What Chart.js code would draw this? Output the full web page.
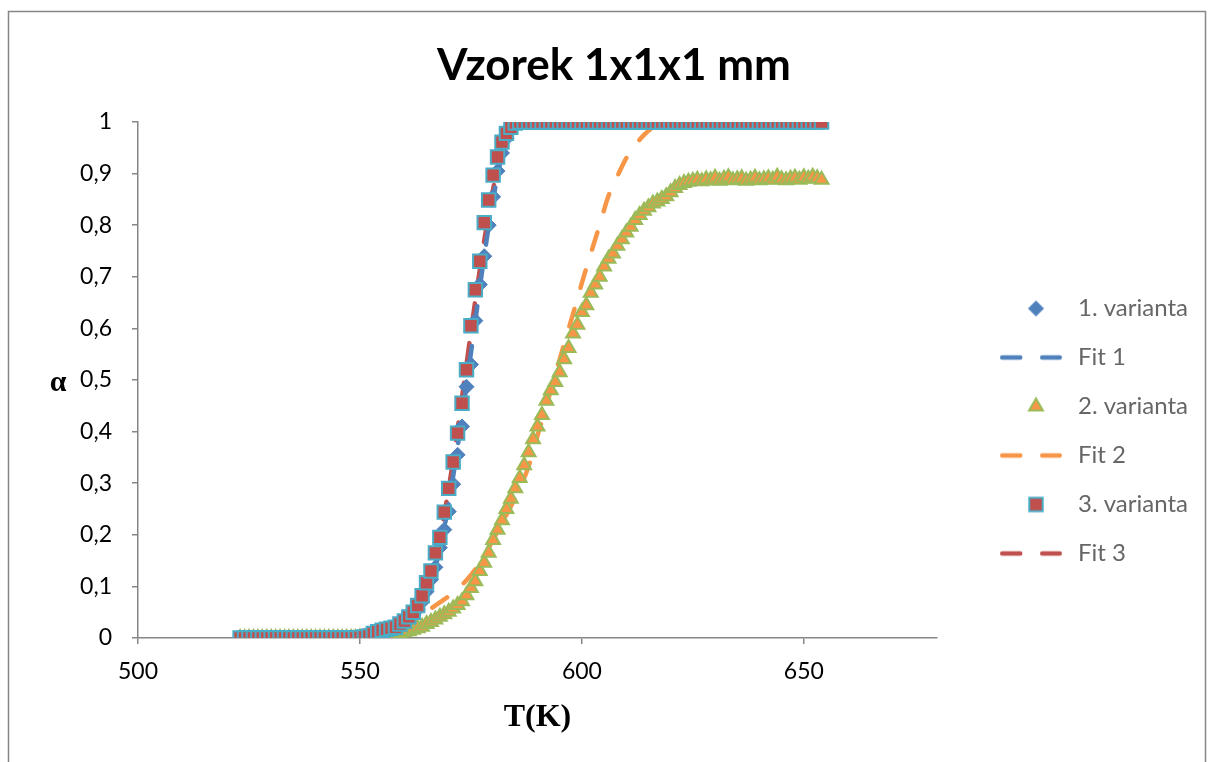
<!DOCTYPE html>
<html>
<head>
<meta charset="utf-8">
<script src="https://cdn.jsdelivr.net/npm/chart.js@4.4.1/dist/chart.umd.min.js"></script>
<style>
  html, body { margin: 0; padding: 0; background: #fff; }
</style>
</head>
<body>
<canvas id="chartCanvas" width="1208" height="762"></canvas>
<script>
// measured temperatures (K)
const temps = [
  523, 524, 525, 526, 527, 528, 529, 530, 531, 532,
  533, 534, 535, 536, 537, 538, 539, 540, 541, 542,
  543, 544, 545, 546, 547, 548, 549, 550, 551, 552,
  553, 554, 555, 556, 557, 558, 559, 560, 561, 562,
  563, 564, 565, 566, 567, 568, 569, 570, 571, 572,
  573, 574, 575, 576, 577, 578, 579, 580, 581, 582,
  583, 584, 585, 586, 587, 588, 589, 590, 591, 592,
  593, 594, 595, 596, 597, 598, 599, 600, 601, 602,
  603, 604, 605, 606, 607, 608, 609, 610, 611, 612,
  613, 614, 615, 616, 617, 618, 619, 620, 621, 622,
  623, 624, 625, 626, 627, 628, 629, 630, 631, 632,
  633, 634, 635, 636, 637, 638, 639, 640, 641, 642,
  643, 644, 645, 646, 647, 648, 649, 650, 651, 652,
  653, 654
];

// alpha, 1. varianta
const variant1 = [
  0, 0, 0, 0, 0, 0, 0, 0, 0, 0,
  0, 0, 0, 0, 0, 0, 0, 0, 0, 0,
  0, 0, 0, 0, 0, 0, 0, 0.001, 0.002, 0.003,
  0.006, 0.009, 0.012, 0.014, 0.016, 0.019, 0.023, 0.028, 0.035, 0.044,
  0.055, 0.07, 0.09, 0.113, 0.137, 0.175, 0.21, 0.245, 0.298, 0.355,
  0.41, 0.487, 0.53, 0.615, 0.685, 0.74, 0.8, 0.855, 0.905, 0.94,
  0.968, 0.985, 0.995, 0.999, 1, 1, 1, 1, 1, 1,
  1, 1, 1, 1, 1, 1, 1, 1, 1, 1,
  1, 1, 1, 1, 1, 1, 1, 1, 1, 1,
  1, 1, 1, 1, 1, 1, 1, 1, 1, 1,
  1, 1, 1, 1, 1, 1, 1, 1, 1, 1,
  1, 1, 1, 1, 1, 1, 1, 1, 1, 1,
  1, 1, 1, 1, 1, 1, 1, 1, 1, 1,
  1, 1
];

// alpha, 2. varianta
const variant2 = [
  0, 0, 0, 0, 0, 0, 0, 0, 0, 0,
  0, 0, 0, 0, 0, 0, 0, 0, 0, 0,
  0, 0, 0, 0, 0, 0, 0, 0.001, 0.001, 0.002,
  0.002, 0.003, 0.004, 0.005, 0.006, 0.007, 0.009, 0.011, 0.013, 0.016,
  0.019, 0.022, 0.027, 0.031, 0.036, 0.041, 0.046, 0.051, 0.057, 0.064,
  0.071, 0.083, 0.097, 0.11, 0.13, 0.146, 0.165, 0.19, 0.21, 0.228,
  0.25, 0.27, 0.29, 0.31, 0.335, 0.36, 0.385, 0.41, 0.432, 0.46,
  0.48, 0.496, 0.515, 0.54, 0.562, 0.59, 0.607, 0.632, 0.645, 0.669,
  0.685, 0.7, 0.72, 0.735, 0.745, 0.76, 0.773, 0.786, 0.797, 0.81,
  0.82, 0.828, 0.835, 0.842, 0.846, 0.851, 0.856, 0.864, 0.872, 0.878,
  0.882, 0.884, 0.886, 0.888, 0.885, 0.889, 0.887, 0.892, 0.886, 0.89,
  0.893, 0.887, 0.889, 0.891, 0.886, 0.888, 0.892, 0.887, 0.889, 0.891,
  0.888, 0.894, 0.889, 0.887, 0.89, 0.892, 0.888, 0.893, 0.89, 0.894,
  0.891, 0.888
];

// alpha, 3. varianta
const variant3 = [
  0, 0, 0, 0, 0, 0, 0, 0, 0, 0,
  0, 0, 0, 0, 0, 0, 0, 0, 0, 0,
  0, 0, 0, 0, 0, 0, 0, 0.001, 0.002, 0.004,
  0.009, 0.012, 0.015, 0.017, 0.019, 0.021, 0.027, 0.033, 0.041, 0.05,
  0.063, 0.082, 0.107, 0.13, 0.165, 0.195, 0.244, 0.29, 0.341, 0.397,
  0.455, 0.52, 0.605, 0.675, 0.73, 0.805, 0.849, 0.897, 0.932, 0.961,
  0.978, 0.99, 0.998, 1, 1, 1, 1, 1, 1, 1,
  1, 1, 1, 1, 1, 1, 1, 1, 1, 1,
  1, 1, 1, 1, 1, 1, 1, 1, 1, 1,
  1, 1, 1, 1, 1, 1, 1, 1, 1, 1,
  1, 1, 1, 1, 1, 1, 1, 1, 1, 1,
  1, 1, 1, 1, 1, 1, 1, 1, 1, 1,
  1, 1, 1, 1, 1, 1, 1, 1, 1, 1,
  1, 1
];

// fitted curves
const fitTemps = [
  523, 535, 545, 550, 553, 556, 558, 560, 562, 564,
  566, 568, 570, 572, 574, 576, 578, 580, 582, 584,
  586, 588, 590, 592, 594, 596, 598, 600, 602, 604,
  606, 608, 610, 612, 614, 616, 618, 620, 630, 640,
  654
];
const fit1 = [
  0, 0, 0, 0.002, 0.005, 0.01, 0.015, 0.024, 0.04, 0.066,
  0.108, 0.172, 0.26, 0.37, 0.49, 0.615, 0.74, 0.85, 0.935, 0.985,
  1, 1, 1, 1, 1, 1, 1, 1, 1, 1,
  1, 1, 1, 1, 1, 1, 1, 1, 1, 1,
  1
];
const fit2 = [
  0, 0, 0, 0, 0.002, 0.008, 0.013, 0.022, 0.033, 0.045,
  0.057, 0.069, 0.081, 0.095, 0.112, 0.133, 0.16, 0.19, 0.222, 0.255,
  0.29, 0.333, 0.392, 0.45, 0.51, 0.57, 0.628, 0.688, 0.745, 0.8,
  0.857, 0.895, 0.93, 0.955, 0.975, 0.99, 1, 1, 1, 1,
  1
];
const fit3 = [
  0, 0, 0, 0.002, 0.006, 0.012, 0.018, 0.028, 0.046, 0.077,
  0.125, 0.195, 0.29, 0.405, 0.53, 0.655, 0.77, 0.87, 0.945, 0.99,
  1, 1, 1, 1, 1, 1, 1, 1, 1, 1,
  1, 1, 1, 1, 1, 1, 1, 1, 1, 1,
  1
];

const xTicks = [500, 550, 600, 650];
const yTicks = [0, 0.1, 0.2, 0.3, 0.4, 0.5, 0.6, 0.7, 0.8, 0.9, 1];
const yTickLabels = ["0", "0,1", "0,2", "0,3", "0,4", "0,5", "0,6", "0,7", "0,8", "0,9", "1"];

const BLUE = "#4F81BD", RED = "#C0504D", ORANGE = "#F79646", GREEN = "#9BBB59", TEAL = "#4BACC6";
const AXIS = "#868686";

const toPoints = (xs, ys) => xs.map((x, i) => ({ x, y: ys[i] }));

// legend icons (marker or dashed line), offset inside the box like in Excel
const BOX_W = 104;
function markerIcon(style, fill, stroke, lw, r) {
  const c = document.createElement("canvas");
  c.width = BOX_W; c.height = 28;
  const g = c.getContext("2d");
  const x = 74, y = 14;
  g.fillStyle = fill; g.strokeStyle = stroke; g.lineWidth = lw;
  g.beginPath();
  if (style === "rectRot") {
    g.moveTo(x - r, y); g.lineTo(x, y - r); g.lineTo(x + r, y); g.lineTo(x, y + r);
  } else if (style === "triangle") {
    g.moveTo(x, y - r); g.lineTo(x + r * 0.866, y + r / 2); g.lineTo(x - r * 0.866, y + r / 2);
  } else {
    const s = r * Math.SQRT1_2;
    g.rect(x - s, y - s, 2 * s, 2 * s);
  }
  g.closePath();
  g.fill(); g.stroke();
  return c;
}
function lineIcon(color) {
  const c = document.createElement("canvas");
  c.width = BOX_W; c.height = 28;
  const g = c.getContext("2d");
  g.strokeStyle = color; g.lineWidth = 4.5; g.lineCap = "round";
  g.setLineDash([18, 22]);
  g.beginPath(); g.moveTo(40.25, 14); g.lineTo(97.75, 14); g.stroke();
  return c;
}

const legendIcons = [
  markerIcon("rectRot", BLUE, BLUE, 1, 7.5),
  lineIcon(BLUE),
  markerIcon("triangle", ORANGE, GREEN, 2, 8),
  lineIcon(ORANGE),
  markerIcon("rect", RED, TEAL, 2, 9.5),
  lineIcon(RED)
];

// size the right-hand padding so the legend text starts where Excel put it
const LEGEND_FONT = 24, LEGEND_PAD = 25;
const mctx = document.createElement("canvas").getContext("2d");
mctx.font = LEGEND_FONT + "px Lato";
const textW = Math.max(...["1. varianta", "2. varianta", "3. varianta", "Fit 1", "Fit 2", "Fit 3"].map(t => mctx.measureText(t).width));
const legendW = LEGEND_PAD + BOX_W + LEGEND_FONT / 2 + textW + 10;
const padRight = Math.max(0, 1208 - 937 - legendW);
const padLeft = 20 + padRight;

const framePlugin = {
  id: "frame",
  beforeDraw(chart) {
    const ctx = chart.ctx;
    ctx.save();
    ctx.fillStyle = "#fff";
    ctx.fillRect(0, 0, chart.width, chart.height);
    ctx.strokeStyle = AXIS;
    ctx.lineWidth = 1.5;
    ctx.strokeRect(8.5, 11.5, 1197, 800);
    ctx.restore();
  },
  afterDraw(chart) {
    const { ctx, chartArea } = chart;
    ctx.save();
    ctx.font = "bold 30px 'Liberation Serif'";
    ctx.fillStyle = "#000";
    ctx.textAlign = "center";
    ctx.textBaseline = "middle";
    ctx.fillText("α", chartArea.left - 80, (chartArea.top + chartArea.bottom) / 2 + 3);
    ctx.restore();
  }
};

const canvas = document.getElementById("chartCanvas");
new Chart(canvas, {
  type: "scatter",
  data: {
    datasets: [
      {
        label: "1. varianta",
        data: toPoints(temps, variant1),
        pointStyle: "rectRot",
        pointRadius: 7.5,
        pointBackgroundColor: BLUE,
        pointBorderColor: BLUE,
        pointBorderWidth: 1,
        order: 1
      },
      {
        label: "Fit 1",
        data: toPoints(fitTemps, fit1),
        showLine: true,
        borderColor: BLUE,
        borderWidth: 4.5,
        borderDash: [18, 22],
        borderCapStyle: "round",
        cubicInterpolationMode: "monotone",
        pointRadius: 0,
        order: 3
      },
      {
        label: "2. varianta",
        data: toPoints(temps, variant2),
        pointStyle: "triangle",
        pointRadius: 8,
        pointBackgroundColor: ORANGE,
        pointBorderColor: GREEN,
        pointBorderWidth: 2,
        order: 2
      },
      {
        label: "Fit 2",
        data: toPoints(fitTemps, fit2),
        showLine: true,
        borderColor: ORANGE,
        borderWidth: 4.5,
        borderDash: [18, 22],
        borderCapStyle: "round",
        cubicInterpolationMode: "monotone",
        pointRadius: 0,
        order: 3
      },
      {
        label: "3. varianta",
        data: toPoints(temps, variant3),
        pointStyle: "rect",
        pointRadius: 9.5,
        pointBackgroundColor: RED,
        pointBorderColor: TEAL,
        pointBorderWidth: 2,
        order: 0
      },
      {
        label: "Fit 3",
        data: toPoints(fitTemps, fit3),
        showLine: true,
        borderColor: RED,
        borderWidth: 4.5,
        borderDash: [18, 22],
        borderCapStyle: "round",
        cubicInterpolationMode: "monotone",
        pointRadius: 0,
        order: 3
      }
    ]
  },
  options: {
    responsive: false,
    animation: false,
    layout: { padding: { left: padLeft, right: padRight, top: 0, bottom: 0 } },
    plugins: {
      tooltip: { enabled: false },
      title: {
        display: true,
        text: "Vzorek 1x1x1 mm",
        color: "#000",
        font: { family: "Lato", size: 44, weight: "bold" },
        padding: { top: 39.6, bottom: 29.6 }
      },
      legend: {
        position: "right",
        title: { display: true, text: " ", font: { size: 10 }, padding: { top: 0, bottom: 88 } },
        labels: {
          usePointStyle: true,
          pointStyleWidth: BOX_W,
          padding: LEGEND_PAD,
          color: "#000",
          font: { family: "Lato", size: LEGEND_FONT },
          generateLabels: chart => chart.data.datasets.map((ds, i) => ({
            text: ds.label,
            pointStyle: legendIcons[i],
            datasetIndex: i,
            hidden: false,
            lineWidth: 0
          }))
        }
      }
    },
    scales: {
      x: {
        type: "linear",
        position: "bottom",
        min: 500,
        max: 680,
        afterBuildTicks: scale => { scale.ticks = xTicks.map(v => ({ value: v })); },
        afterFit: scale => { scale.height = 124; },
        grid: { drawOnChartArea: false, drawTicks: true, tickLength: 6, color: AXIS, lineWidth: 1.5 },
        border: { color: AXIS, width: 1.5 },
        ticks: { color: "#000", padding: 14, font: { family: "Lato", size: 23 } },
        title: {
          display: true,
          text: "T(K)",
          color: "#000",
          font: { family: "Liberation Serif", size: 32, weight: "bold" },
          padding: { top: 0, bottom: 24.8 }
        }
      },
      y: {
        type: "linear",
        min: 0,
        max: 1,
        afterBuildTicks: scale => { scale.ticks = yTicks.map(v => ({ value: v })); },
        afterFit: scale => { scale.width = 138 - padLeft; },
        grid: { drawOnChartArea: false, drawTicks: true, tickLength: 6, color: AXIS, lineWidth: 1.5 },
        border: { color: AXIS, width: 1.5 },
        ticks: {
          color: "#000",
          padding: 20,
          font: { family: "Lato", size: 23 },
          callback: (v, i) => yTickLabels[i]
        }
      }
    }
  },
  plugins: [framePlugin]
});
</script>
</body>
</html>
